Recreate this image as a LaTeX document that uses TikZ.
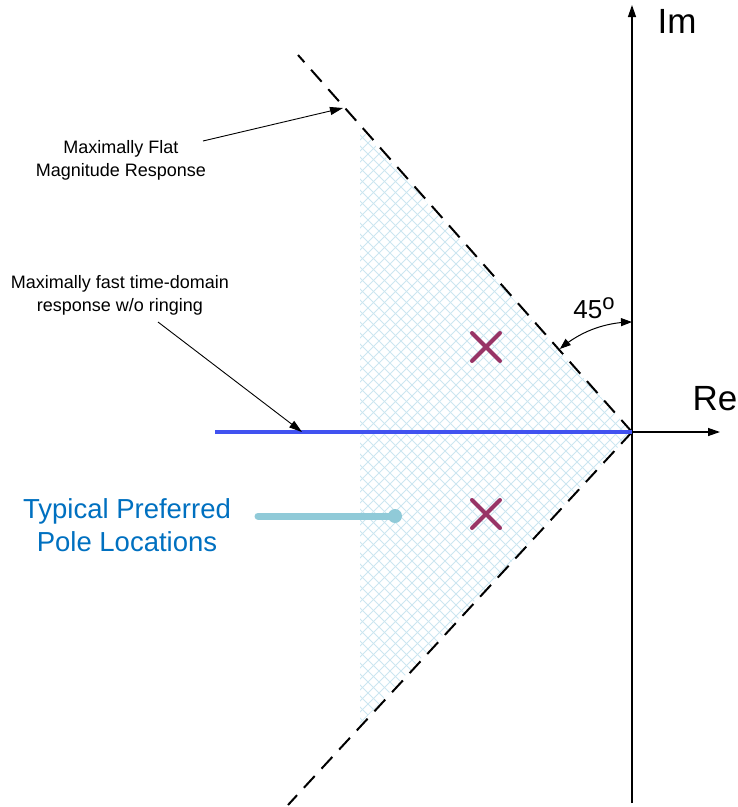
\documentclass[tikz,border=0pt]{standalone}
\usepackage{fontspec}
\setmainfont{Liberation Sans}
\usetikzlibrary{arrows.meta,shapes.misc}
\definecolor{polecol}{RGB}{152,52,102}
\definecolor{hatchcol}{RGB}{204,230,240}
\definecolor{bluelinecol}{RGB}{65,82,240}
\definecolor{tealcol}{RGB}{144,202,216}
\definecolor{textblue}{RGB}{0,112,192}
\begin{document}
\begin{tikzpicture}[x=1pt,y=-1pt,
  lbl/.style={font=\fontsize{18}{23}\selectfont, align=center, inner sep=0pt},
  biglbl/.style={font=\fontsize{27.5}{33}\selectfont, align=center, inner sep=0pt, text=textblue},
  axislbl/.style={font=\fontsize{35}{40}\selectfont, inner sep=0pt},
  annot/.style={line width=0.9pt, -{Triangle[length=13pt,width=8pt]}},
  axisline/.style={line width=1.3pt, -{Triangle[length=12pt,width=8pt]}},
  boundary/.style={line width=2pt, dash pattern=on 16pt off 10pt},
  polecross/.style={cross out, draw=polecol, line width=4pt, line cap=round, minimum size=24pt, inner sep=0pt},
  hatchline/.style={draw=hatchcol, line width=1pt},
  angarrow/.style={line width=1pt, {Triangle[length=11pt,width=8pt]}-{Triangle[length=11pt,width=8pt]}}
]
\useasboundingbox (0,0) rectangle (738,807);

% hatched region
\begin{scope}
  \clip (360,128) -- (360,724) -- (632,432) -- cycle;
  \foreach \c in {478,489,...,1100} \draw[hatchline] (350,\c-350) -- (640,\c-640);
  \foreach \c in {-380,-369,...,250} \draw[hatchline] (350,350-\c) -- (640,640-\c);
\end{scope}

% coordinates
\coordinate (O) at (632,432);
\coordinate (imtop) at (632,5);
\coordinate (imbot) at (632,803);
\coordinate (retip) at (720,432);
\coordinate (ut) at (298,55);
\coordinate (lb) at (288,805);
\coordinate (bl) at (215,432);

% axes
\draw[axisline] (imbot) -- (imtop);
\draw[axisline] (O) -- (retip);
\node[axislbl] (im) at (677,21) {Im};
\node[axislbl] (re) at (715,399) {Re};

% boundaries
\draw[boundary] (O) -- (ut);
\draw[boundary] (O) -- (lb);

% blue line
\draw[draw=bluelinecol, line width=4.5pt] (bl) -- (O);

% poles
\node[polecross] (p1) at (486,347) {};
\node[polecross] (p2) at (486,514) {};

% angle arc
\draw[angarrow] plot[smooth, domain=-90:-131, samples=20] ({632+110*cos(\x)},{432+110*sin(\x)});
\node[font=\fontsize{26}{30}\selectfont, anchor=base, inner sep=0pt] (ang) at (594,318) {45\raisebox{9pt}{\fontsize{22}{22}\selectfont o}};

% annotations
\node[lbl] (flat) at (121,160) {Maximally Flat\\Magnitude Response};
\coordinate (a1s) at (203,141);
\coordinate (a1e) at (343,108);
\draw[annot] (a1s) -- (a1e);

\node[lbl] (fast) at (120,295) {Maximally fast time-domain\\response w/o ringing};
\coordinate (a2s) at (158,322);
\coordinate (a2e) at (302,432);
\draw[annot] (a2s) -- (a2e);

% preferred pole locations
\node[biglbl] (pref) at (127,525) {Typical Preferred\\Pole Locations};
\node[circle, fill=tealcol, minimum size=14pt, inner sep=0pt] (dot) at (395,516) {};
\coordinate (t1) at (258,516);
\draw[draw=tealcol, line width=7pt, line cap=round] (t1) -- (dot.center);
\end{tikzpicture}
\end{document}
